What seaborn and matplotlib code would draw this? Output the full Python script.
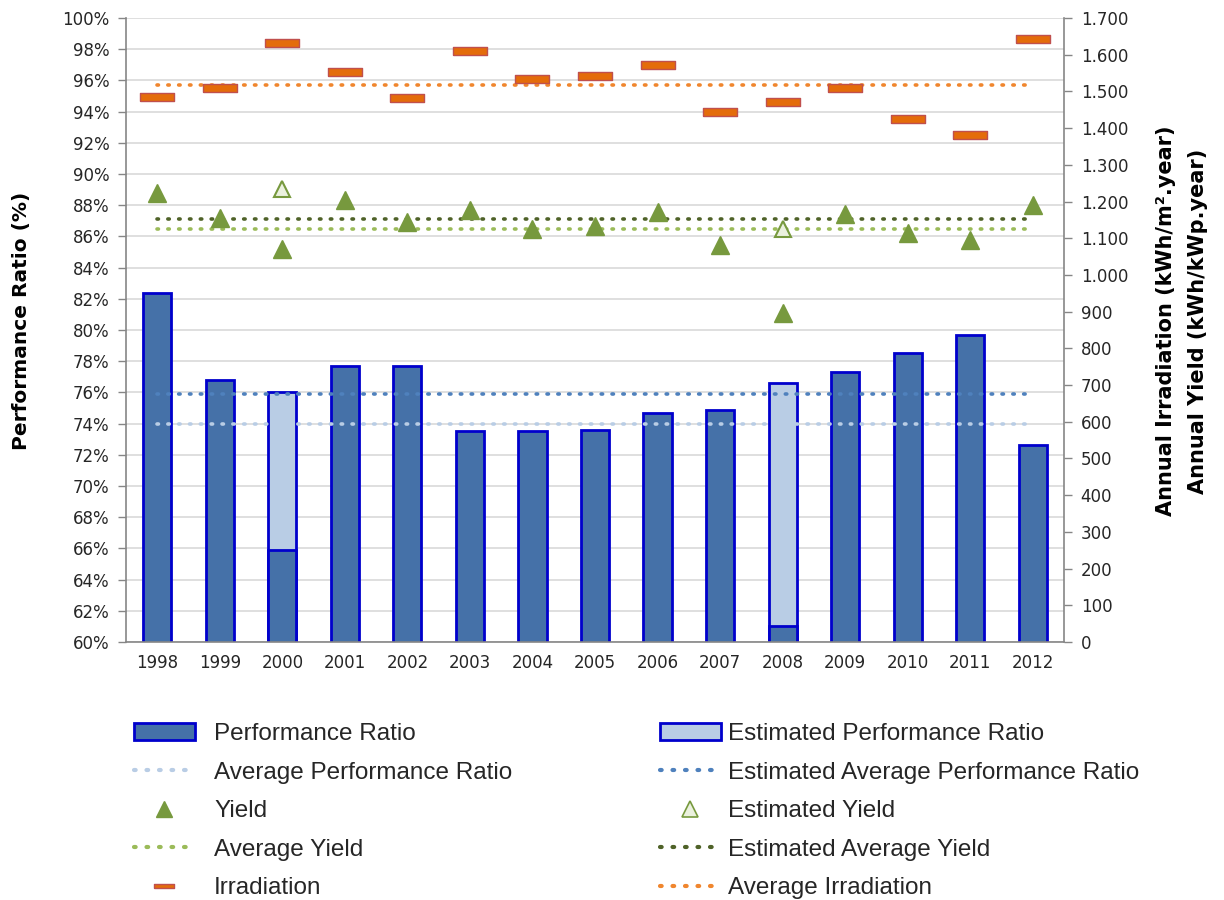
import matplotlib
import matplotlib.pyplot as plt
import numpy as np
import seaborn as sns
from matplotlib.lines import Line2D
from matplotlib.patches import Patch
from matplotlib.ticker import FuncFormatter, MultipleLocator

matplotlib.use("Agg")

# Data
YEARS = ["1998", "1999", "2000", "2001", "2002", "2003", "2004", "2005",
         "2006", "2007", "2008", "2009", "2010", "2011", "2012"]
PR = [82.4, 76.8, 65.9, 77.7, 77.7, 73.5, 73.5, 73.6, 74.7, 74.9, 61.0, 77.3, 78.5, 79.7, 72.6]
PR_EST = [np.nan, np.nan, 76.0, np.nan, np.nan, np.nan, np.nan, np.nan,
          np.nan, np.nan, 76.6, np.nan, np.nan, np.nan, np.nan]
IRRADIATION = [1486, 1509, 1633, 1552, 1481, 1609, 1533, 1543, 1571, 1443, 1472, 1509, 1425, 1381, 1643]
YIELD = [1224, 1156, 1072, 1204, 1145, 1178, 1124, 1132, 1172, 1081, 897, 1167, 1113, 1096, 1190]
YIELD_EST = [np.nan, np.nan, 1235, np.nan, np.nan, np.nan, np.nan, np.nan,
             np.nan, np.nan, 1125, np.nan, np.nan, np.nan, np.nan]
AVG_PR = 74.0
EST_AVG_PR = 75.9
AVG_YIELD = 1125
EST_AVG_YIELD = 1153
AVG_IRRADIATION = 1518

DARK_BAR = "#4571A8"
LIGHT_BAR = "#B9CDE5"
BAR_EDGE = "#0000CC"
GREEN = "#77993E"
IRR_FILL = "#E46C0A"
IRR_EDGE = "#C0504D"
AXIS_GREY = "#868686"
TEXT = "#262626"

RECT = [(-2.2, -0.5), (2.2, -0.5), (2.2, 0.5), (-2.2, 0.5), (-2.2, -0.5)]
DOTS = (0, (0.4, 2.6))

sns.set_theme(style="white")
plt.rcParams["font.family"] = ["DejaVu Sans"]

fig = plt.figure(figsize=(12.24, 9), dpi=100)
ax = fig.add_axes([126 / 1224, 1 - 642 / 900, 938 / 1224, 624 / 900])
n = len(YEARS)
xpos = np.arange(n)

# bars: estimated (light) behind, measured (dark) in front
sns.barplot(x=YEARS, y=PR_EST, order=YEARS, color=LIGHT_BAR, saturation=1,
            edgecolor=BAR_EDGE, linewidth=2, width=0.45, errorbar=None, ax=ax)
sns.barplot(x=YEARS, y=PR, order=YEARS, color=DARK_BAR, saturation=1,
            edgecolor=BAR_EDGE, linewidth=2, width=0.45, errorbar=None, ax=ax)

ax.plot(xpos, np.full(n, AVG_PR), color=LIGHT_BAR, lw=2.6, ls=DOTS,
        dash_capstyle="round", zorder=5)
ax.plot(xpos, np.full(n, EST_AVG_PR), color="#4F81BD", lw=2.6, ls=DOTS,
        dash_capstyle="round", zorder=5)

ax.set_ylim(60, 100)
ax.set_xlim(-0.5, n - 0.5)
ax.yaxis.set_major_locator(MultipleLocator(2))
ax.yaxis.set_major_formatter(FuncFormatter(lambda v, _: f"{v:.0f}%"))
ax.yaxis.grid(True, color="#D9D9D9", lw=1.2)
ax.set_axisbelow(True)
ax.set_xlabel("")
ax.set_ylabel("")
ax.set_xticks(xpos)
ax.set_xticklabels(YEARS)
ax.set_xticks(np.arange(-0.5, n, 1), minor=True)
ax.tick_params(axis="x", which="major", length=0, pad=9, labelsize=12, labelcolor=TEXT)
ax.tick_params(axis="x", which="minor", length=6, direction="out", color=AXIS_GREY, width=1)
ax.tick_params(axis="y", length=6, direction="out", color=AXIS_GREY, width=1,
               pad=6, labelsize=12, labelcolor=TEXT, left=True)
for side in ["top", "right"]:
    ax.spines[side].set_visible(False)
for side in ["left", "bottom"]:
    ax.spines[side].set_color(AXIS_GREY)
    ax.spines[side].set_linewidth(1.2)

# secondary axis: irradiation and yield
ax2 = ax.twinx()
ax2.plot(xpos, np.full(n, AVG_IRRADIATION), color="#F0862E", lw=2.6, ls=DOTS,
         dash_capstyle="round")
ax2.plot(xpos, np.full(n, EST_AVG_YIELD), color="#4F6228", lw=2.6, ls=DOTS,
         dash_capstyle="round")
ax2.plot(xpos, np.full(n, AVG_YIELD), color="#9BBB59", lw=2.6, ls=DOTS,
         dash_capstyle="round")
ax2.plot(xpos, IRRADIATION, ls="none", marker=RECT, ms=25, mfc=IRR_FILL,
         mec=IRR_EDGE, mew=1)
ax2.plot(xpos, YIELD, ls="none", marker="^", ms=13, mfc=GREEN, mec=GREEN)
ax2.plot(xpos, YIELD_EST, ls="none", marker="^", ms=12, mfc="#EBF1DE",
         mec=GREEN, mew=1.5)
ax2.set_ylim(0, 1700)
ax2.yaxis.set_major_locator(MultipleLocator(100))
ax2.yaxis.set_major_formatter(FuncFormatter(lambda v, _: f"{int(v):,}".replace(",", ".")))
ax2.tick_params(axis="y", length=6, direction="out", color=AXIS_GREY, width=1,
                pad=6, labelsize=12, labelcolor=TEXT, right=True)
ax2.grid(False)
for side in ["top", "left", "bottom"]:
    ax2.spines[side].set_visible(False)
ax2.spines["right"].set_color(AXIS_GREY)
ax2.spines["right"].set_linewidth(1.2)

fig.text(22 / 1224, 1 - 321 / 900, "Performance Ratio (%)", rotation=90,
         ha="center", va="center", fontsize=14.5, fontweight="bold", color="black")
fig.text(1182 / 1224, 1 - 321 / 900,
         "Annual Irradiation (kWh/m\u00b2.year)\nAnnual Yield (kWh/kWp.year)",
         rotation=90, ha="center", va="center", multialignment="center",
         linespacing=1.75, fontsize=15, fontweight="bold", color="black")

# legend in two columns
dot_kw = dict(lw=3, ls=DOTS, dash_capstyle="round")
left_handles = [
    Patch(facecolor=DARK_BAR, edgecolor=BAR_EDGE, linewidth=2),
    Line2D([], [], color=LIGHT_BAR, **dot_kw),
    Line2D([], [], ls="none", marker="^", ms=11, mfc=GREEN, mec=GREEN),
    Line2D([], [], color="#9BBB59", **dot_kw),
    Line2D([], [], ls="none", marker=RECT, ms=14, mfc=IRR_FILL, mec=IRR_EDGE, mew=1),
]
left_labels = ["Performance Ratio", "Average Performance Ratio", "Yield",
               "Average Yield", "Irradiation"]
right_handles = [
    Patch(facecolor=LIGHT_BAR, edgecolor=BAR_EDGE, linewidth=2),
    Line2D([], [], color="#4F81BD", **dot_kw),
    Line2D([], [], ls="none", marker="^", ms=11, mfc="#EBF1DE", mec=GREEN, mew=1.2),
    Line2D([], [], color="#4F6228", **dot_kw),
    Line2D([], [], color="#F0862E", **dot_kw),
]
right_labels = ["Estimated Performance Ratio", "Estimated Average Performance Ratio",
                "Estimated Yield", "Estimated Average Yield", "Average Irradiation"]

leg_kw = dict(loc="upper left", frameon=False, borderpad=0, borderaxespad=0,
              handlelength=2.5, labelspacing=0.68,
              prop={"family": ["Liberation Sans", "DejaVu Sans"], "size": 17.5})
leg1 = fig.legend(left_handles, left_labels, bbox_to_anchor=(134 / 1224, 1 - 723 / 900),
                  handletextpad=0.8, **leg_kw)
leg2 = fig.legend(right_handles, right_labels, bbox_to_anchor=(660 / 1224, 1 - 723 / 900),
                  handletextpad=0.3, **leg_kw)
for leg in (leg1, leg2):
    for t in leg.get_texts():
        t.set_color(TEXT)

fig.savefig("out.png", dpi=100, facecolor="white")
plt.close(fig)
